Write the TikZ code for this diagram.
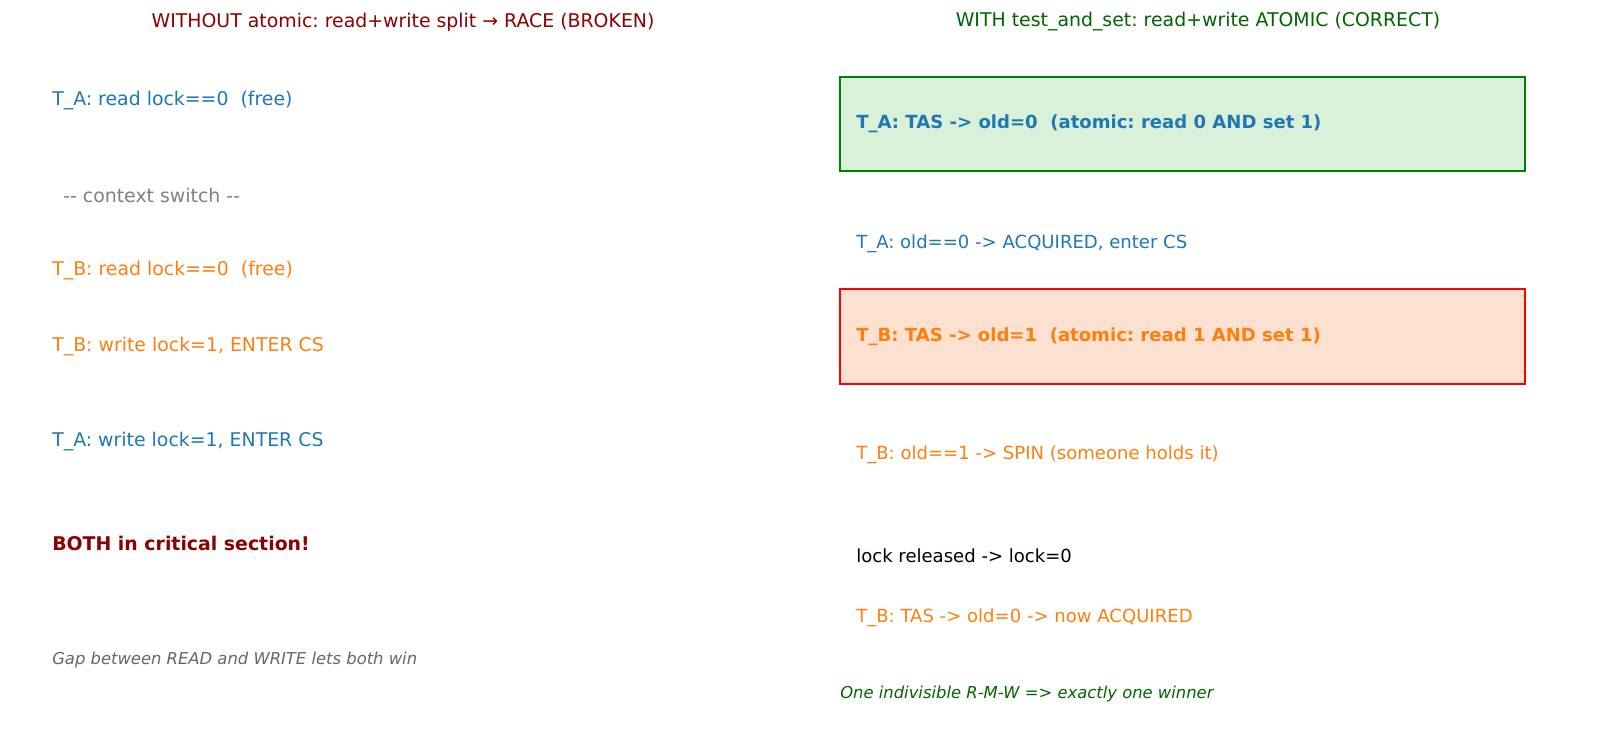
\documentclass[tikz,border=0pt]{standalone}
\usepackage{fontspec}
\setmainfont{DejaVu Sans}
\definecolor{tabblue}{HTML}{1F77B4}
\definecolor{taborange}{HTML}{FF7F0E}
\definecolor{darkred}{HTML}{8B0000}
\definecolor{darkgreen}{HTML}{006400}
\definecolor{okfill}{RGB}{217,241,216}
\definecolor{badfill}{RGB}{252,224,208}
\frenchspacing
\begin{document}
\begin{tikzpicture}[x=0.72pt, y=-0.72pt,
    txt/.style={anchor=west, inner sep=0pt, font=\fontsize{13.6}{16}\selectfont},
    rtxt/.style={anchor=west, inner sep=0pt, font=\fontsize{13}{15}\selectfont},
    title/.style={inner sep=0pt, font=\fontsize{13.6}{16}\selectfont}]
  \useasboundingbox (0,0) rectangle (1600,731);

  % Draw the titles
  \node[title, text=darkred] (titleL) at (403,22) {WITHOUT atomic: read+write split → RACE (BROKEN)};
  \node[title, text=darkgreen] (titleR) at (1198,22) {WITH test\_and\_set: read+write ATOMIC (CORRECT)};

  % Draw the broken interleaving
  \node[txt, text=tabblue] (readA) at (52,101) {T\_A: read lock==0\ \ (free)};
  \node[txt, text=gray] (switch) at (63,195) {-{}- context switch -{}-};
  \node[txt, text=taborange] (readB) at (52,271) {T\_B: read lock==0\ \ (free)};
  \node[txt, text=taborange] (writeB) at (52,347) {T\_B: write lock=1, ENTER CS};
  \node[txt, text=tabblue] (writeA) at (52,442) {T\_A: write lock=1, ENTER CS};
  \node[txt, text=darkred, font=\fontsize{13.6}{16}\selectfont\bfseries] (both) at (52,543) {BOTH in critical section!};
  \node[txt, text=black!60, font=\fontsize{11.8}{14}\selectfont\itshape] (gap) at (52,660) {Gap between READ and WRITE lets both win};

  % Draw the boxes for the atomic steps
  \draw[line width=1pt, draw=green!50!black, fill=okfill] (840,77) rectangle (1525,171);
  \draw[line width=1pt, draw=red, fill=badfill] (840,289) rectangle (1525,384);

  % Draw the correct interleaving
  \node[rtxt, text=tabblue, font=\fontsize{13}{15}\selectfont\bfseries] (tasA) at (856,124) {T\_A: TAS -> old=0\ \ (atomic: read 0 AND set 1)};
  \node[rtxt, text=tabblue] (gotA) at (856,244) {T\_A: old==0 -> ACQUIRED, enter CS};
  \node[rtxt, text=taborange, font=\fontsize{13}{15}\selectfont\bfseries] (tasB) at (856,337) {T\_B: TAS -> old=1\ \ (atomic: read 1 AND set 1)};
  \node[rtxt, text=taborange] (spinB) at (856,455) {T\_B: old==1 -> SPIN (someone holds it)};
  \node[rtxt, text=black] (release) at (856,556) {lock released -> lock=0};
  \node[rtxt, text=taborange] (gotB) at (856,618) {T\_B: TAS -> old=0 -> now ACQUIRED};
  \node[rtxt, text=darkgreen, font=\fontsize{11.8}{14}\selectfont\itshape] (winner) at (840,694) {One indivisible R-M-W => exactly one winner};
\end{tikzpicture}
\end{document}
